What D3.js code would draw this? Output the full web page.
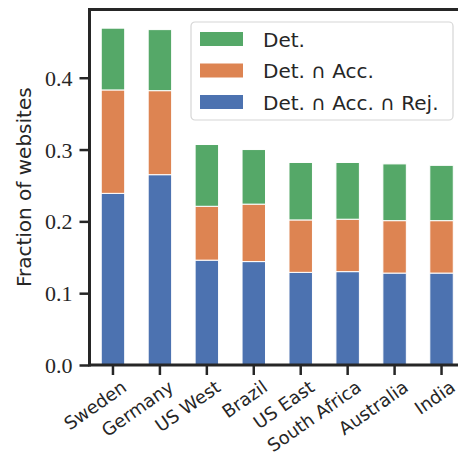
<!DOCTYPE html>
<html>
<head>
<meta charset="utf-8">
<script src="https://cdn.jsdelivr.net/npm/d3@7"></script>
<style>
  body { margin: 0; background: #fff; }
  svg { display: block; }
</style>
</head>
<body>
<div class="chart-panel"></div>
<script>
const regions = ['Sweden', 'Germany', 'US West', 'Brazil', 'US East', 'South Africa', 'Australia', 'India']
// cumulative fractions
const detAccRej = [0.239, 0.265, 0.146, 0.144, 0.129, 0.130, 0.128, 0.128]
const detAcc = [0.383, 0.382, 0.221, 0.224, 0.202, 0.203, 0.201, 0.201]
const det = [0.469, 0.467, 0.307, 0.300, 0.282, 0.282, 0.280, 0.278]
const yTicks = [0.0, 0.1, 0.2, 0.3, 0.4]
const legendLabels = ['Det.', 'Det. \u2229 Acc.', 'Det. \u2229 Acc. \u2229 Rej.']

const colors = { det: '#55a868', acc: '#dd8452', rej: '#4c72b0' }
const ink = '#262626'

const W = 458
const H = 457
const margin = { top: 9.5, left: 89.5 }
const width = 375.5
const height = 355.5

const svg = d3.select('.chart-panel').append('svg')
  .attr('width', W)
  .attr('height', H)

const g = svg.append('g').attr('transform', 'translate(' + margin.left + ',' + margin.top + ')')

const x = d3.scaleBand()
  .domain(regions)
  .range([0, width])
  .paddingInner(0.5)
  .paddingOuter(0.25)

const y = d3.scaleLinear()
  .domain([0, 0.495])
  .range([height, 0])

// stacked segments: bottom, top, colour
const segments = []
regions.forEach(function (r, i) {
  segments.push({ region: r, y0: 0, y1: detAccRej[i], c: colors.rej })
  segments.push({ region: r, y0: detAccRej[i], y1: detAcc[i], c: colors.acc })
  segments.push({ region: r, y0: detAcc[i], y1: det[i], c: colors.det })
})

g.selectAll('.seg')
  .data(segments)
  .enter().append('rect')
    .attr('class', 'seg')
    .attr('x', function (d) { return x(d.region) })
    .attr('width', x.bandwidth())
    .attr('y', function (d) { return y(d.y1) })
    .attr('height', function (d) { return y(d.y0) - y(d.y1) })
    .attr('fill', function (d) { return d.c })
    .attr('stroke', '#fff')
    .attr('stroke-width', 1)

// y axis
const yAxis = g.append('g')
  .call(d3.axisLeft(y).tickValues(yTicks).tickFormat(d3.format('.1f')).tickSize(10).tickPadding(7))
yAxis.select('.domain').remove()
yAxis.selectAll('.tick line').attr('stroke', ink).attr('stroke-width', 2.5)
yAxis.selectAll('.tick text')
  .attr('fill', ink)
  .attr('dy', '0.34em')
  .style('font-family', '"Liberation Serif", "DejaVu Serif", serif')
  .style('font-size', '22px')

// x axis
const xAxis = g.append('g')
  .attr('transform', 'translate(0,' + height + ')')
  .call(d3.axisBottom(x).tickSize(10).tickPadding(0))
xAxis.select('.domain').remove()
xAxis.selectAll('.tick line').attr('stroke', ink).attr('stroke-width', 2.5)
xAxis.selectAll('.tick text')
  .attr('fill', ink)
  .attr('text-anchor', 'end')
  .attr('dy', 0)
  .attr('y', 0)
  .attr('transform', 'translate(15,25) rotate(-35)')
  .style('font-family', '"DejaVu Sans", sans-serif')
  .style('font-size', '18px')

// spines
const spine = g.append('g').attr('stroke', ink).attr('stroke-width', 3).attr('fill', 'none')
spine.append('line').attr('x1', 0).attr('x2', 0).attr('y1', -1.5).attr('y2', height + 1.5)
spine.append('line').attr('x1', 0).attr('x2', width).attr('y1', 0).attr('y2', 0)
spine.append('line').attr('x1', 0).attr('x2', width).attr('y1', height).attr('y2', height)
spine.append('line').attr('x1', width).attr('x2', width).attr('y1', 0).attr('y2', height)

// y title
svg.append('text')
  .attr('transform', 'translate(31,' + (margin.top + height / 2) + ') rotate(-90)')
  .attr('text-anchor', 'middle')
  .attr('fill', ink)
  .style('font-family', '"DejaVu Sans", sans-serif')
  .style('font-size', '20px')
  .text('Fraction of websites')

// legend
const legend = svg.append('g').attr('transform', 'translate(191,22)')
legend.append('rect')
  .attr('width', 262)
  .attr('height', 98)
  .attr('rx', 4)
  .attr('fill', '#fff')
  .attr('fill-opacity', 0.85)
  .attr('stroke', '#d6d6d6')
  .attr('stroke-width', 1.2)
const legendColors = [colors.det, colors.acc, colors.rej]
const item = legend.selectAll('.item')
  .data(legendLabels)
  .enter().append('g')
    .attr('class', 'item')
    .attr('transform', function (d, i) { return 'translate(9,' + (10 + i * 31.5) + ')' })
item.append('rect')
  .attr('width', 43)
  .attr('height', 14)
  .attr('fill', function (d, i) { return legendColors[i] })
item.append('text')
  .attr('x', 63)
  .attr('y', 14.5)
  .attr('fill', ink)
  .style('font-family', '"DejaVu Sans", sans-serif')
  .style('font-size', '20px')
  .text(function (d) { return d })
</script>
</body>
</html>
